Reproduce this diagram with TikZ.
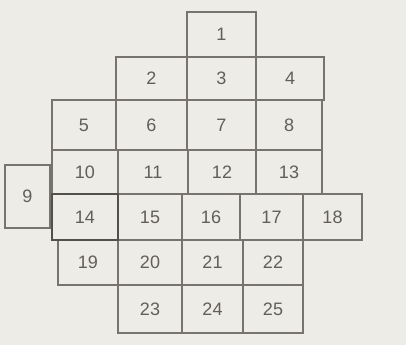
\documentclass[tikz,border=0pt]{standalone}
\usepackage{fontspec}
\setmainfont{Liberation Sans}
\definecolor{bg}{HTML}{EDECE6}
\definecolor{ln}{HTML}{77736D}
\definecolor{tx}{HTML}{625E58}
\begin{document}
\begin{tikzpicture}[x=1pt,y=-1pt,
  cell/.style={draw=ln, line width=1.8pt, text=tx, inner sep=0pt,
    font=\fontsize{18}{18}\selectfont},
  thick cell/.style={cell, line width=2.6pt, draw=ln!70!black}]
\fill[bg] (0,0) rectangle (406,345);
\useasboundingbox (0,0) rectangle (406,345);
\newcommand\cellat[6]{%
  \node[#6, minimum width={(#3)-(#2)}, minimum height={(#5)-(#4)}]
    (c#1) at ({((#2)+(#3))/2},{((#4)+(#5))/2}) {#1};}
\cellat{1}{187}{256}{12}{57}{cell}
\cellat{2}{116}{187}{57}{100}{cell}
\cellat{3}{187}{256}{57}{100}{cell}
\cellat{4}{256}{324}{57}{100}{cell}
\cellat{5}{52}{116}{100}{150}{cell}
\cellat{6}{116}{187}{100}{150}{cell}
\cellat{7}{187}{256}{100}{150}{cell}
\cellat{8}{256}{322}{100}{150}{cell}
\cellat{9}{5}{50}{165}{228}{cell}
\cellat{10}{52}{118}{150}{194}{cell}
\cellat{11}{118}{188}{150}{194}{cell}
\cellat{12}{188}{256}{150}{194}{cell}
\cellat{13}{256}{322}{150}{194}{cell}
\cellat{15}{118}{182}{194}{240}{cell}
\cellat{16}{182}{240}{194}{240}{cell}
\cellat{17}{240}{303}{194}{240}{cell}
\cellat{18}{303}{362}{194}{240}{cell}
\cellat{19}{58}{118}{240}{285}{cell}
\cellat{20}{118}{182}{240}{285}{cell}
\cellat{21}{182}{243}{240}{285}{cell}
\cellat{22}{243}{303}{240}{285}{cell}
\cellat{23}{118}{182}{285}{333}{cell}
\cellat{24}{182}{243}{285}{333}{cell}
\cellat{25}{243}{303}{285}{333}{cell}
\cellat{14}{52}{118}{194}{240}{thick cell}
\end{tikzpicture}
\end{document}
